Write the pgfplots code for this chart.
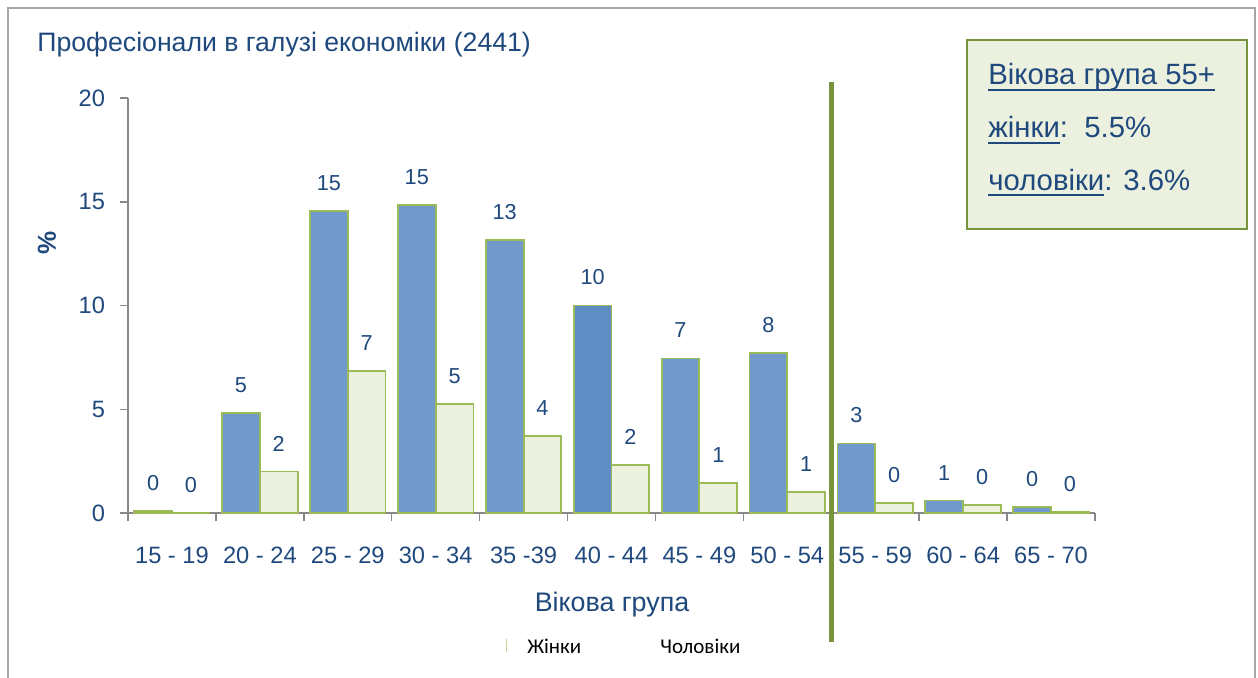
\documentclass[border=0pt]{standalone}
\usepackage{pgfplots}
\pgfplotsset{compat=1.18}
\usepackage{fontspec}
\setmainfont{Liberation Sans}
\newfontfamily\legfont{Carlito}
\newcommand\ul[1]{\setbox0\hbox{#1}\rlap{\rule[-0.2em]{\wd0}{0.065em}}\box0}

\definecolor{txt}{HTML}{1F497D}
\definecolor{bblue}{HTML}{7199CB}
\definecolor{dblue}{HTML}{5E8CC3}
\definecolor{gedge}{HTML}{9BBB59}
\definecolor{gfill}{HTML}{EBF1DE}
\definecolor{oline}{HTML}{77933C}
\definecolor{axgray}{HTML}{888888}
\definecolor{frame}{HTML}{A6A6A6}

\begin{document}
\begin{tikzpicture}
% 1 px of the reference = 0.6pt; axis lower left corner at pixel (128,513)
\begin{axis}[
    at={(0,0)}, anchor=south west,
    width=580.2pt, height=249pt, scale only axis,
    xmin=-0.5, xmax=10.5, ymin=0, ymax=20,
    axis x line*=bottom, axis y line*=left,
    axis line style={axgray, line width=0.9pt},
    ybar=0pt, bar width=0.43,
    ytick={0,5,10,15,20},
    xtick={0,...,10},
    xticklabels={15 - 19,20 - 24,25 - 29,30 - 34,35 -39,40 - 44,45 - 49,50 - 54,55 - 59,60 - 64,65 - 70},
    minor xtick={-0.5,0.5,...,10.5},
    major x tick style={draw=none},
    tick style={axgray, line width=0.9pt},
    tick align=outside,
    major tick length=4.8pt, minor tick length=4.8pt,
    ticklabel style={font=\fontsize{14.2}{16}\selectfont, text=txt},
    xticklabel style={yshift=-12pt},
    yticklabel style={xshift=-5.5pt},
    /pgf/number format/assume math mode=true,
    nodes near coords,
    point meta=explicit symbolic,
    every node near coord/.append style={font=\fontsize{13}{15}\selectfont, text=txt, anchor=center, yshift=16.8pt},
    clip=false,
]
% Жінки
\addplot[fill=bblue, draw=gedge, line width=1.1pt, bar shift=-0.215] coordinates {
(0,0.08)[0] (1,4.8)[5] (2,14.55)[15] (3,14.85)[15] (4,13.15)[13]
(6,7.45)[7] (7,7.7)[8] (8,3.35)[3] (9,0.6)[1] (10,0.3)[0]};
\addplot[fill=dblue, draw=gedge, line width=1.1pt, bar shift=-0.215, forget plot] coordinates {
(5,10.0)[10]};
% Чоловіки
\addplot[fill=gfill, draw=gedge, line width=1.1pt, bar shift=0.215] coordinates {
(0,0)[0] (1,2.0)[2] (2,6.85)[7] (3,5.25)[5] (4,3.7)[4] (5,2.3)[2]
(6,1.45)[1] (7,1.0)[1] (8,0.48)[0] (9,0.38)[0] (10,0.05)[0]};
\draw[oline, line width=3pt] (axis cs:7.5,-6.2) -- (axis cs:7.5,20.77);
\end{axis}

\begin{scope}[x=0.6pt, y=0.6pt]
\useasboundingbox (-128,-164) rectangle (1130,513);
\draw[frame, line width=0.9pt] (-120,-170) -- (-120,505) -- (1127,505) -- (1127,-170);
\node[anchor=west, text=txt, font=\fontsize{16}{19}\selectfont, inner sep=0pt] at (-91,468)
  {Професіонали в галузі економіки (2441)};
\node[rotate=90, text=txt, font=\fontsize{15.6}{18}\selectfont\bfseries] at (-81,270) {\%};
\node[text=txt, font=\fontsize{16.1}{19}\selectfont] at (484,-92) {Вікова група};
\draw[gedge!60, line width=0.6pt] (378,-126) -- (378,-139);
\node[anchor=west, inner sep=0pt, font=\legfont\fontsize{12.6}{14}\selectfont] at (399,-133) {Жінки};
\node[anchor=west, inner sep=0pt, font=\legfont\fontsize{12.6}{14}\selectfont] at (532,-133) {Чоловіки};
\draw[oline, fill=gfill, line width=1.2pt] (839,473) rectangle (1119,284);
\begin{scope}[every node/.style={anchor=base west, inner sep=0pt, text=txt, font=\fontsize{17.6}{21}\selectfont}]
\node at (860,428) {\ul{Вікова група 55+}};
\node at (860,375) {\ul{жінки}:\ \ 5.5\%};
\node at (860,323) {\ul{чоловіки}: 3.6\%};
\end{scope}
\end{scope}
\end{tikzpicture}
\end{document}
